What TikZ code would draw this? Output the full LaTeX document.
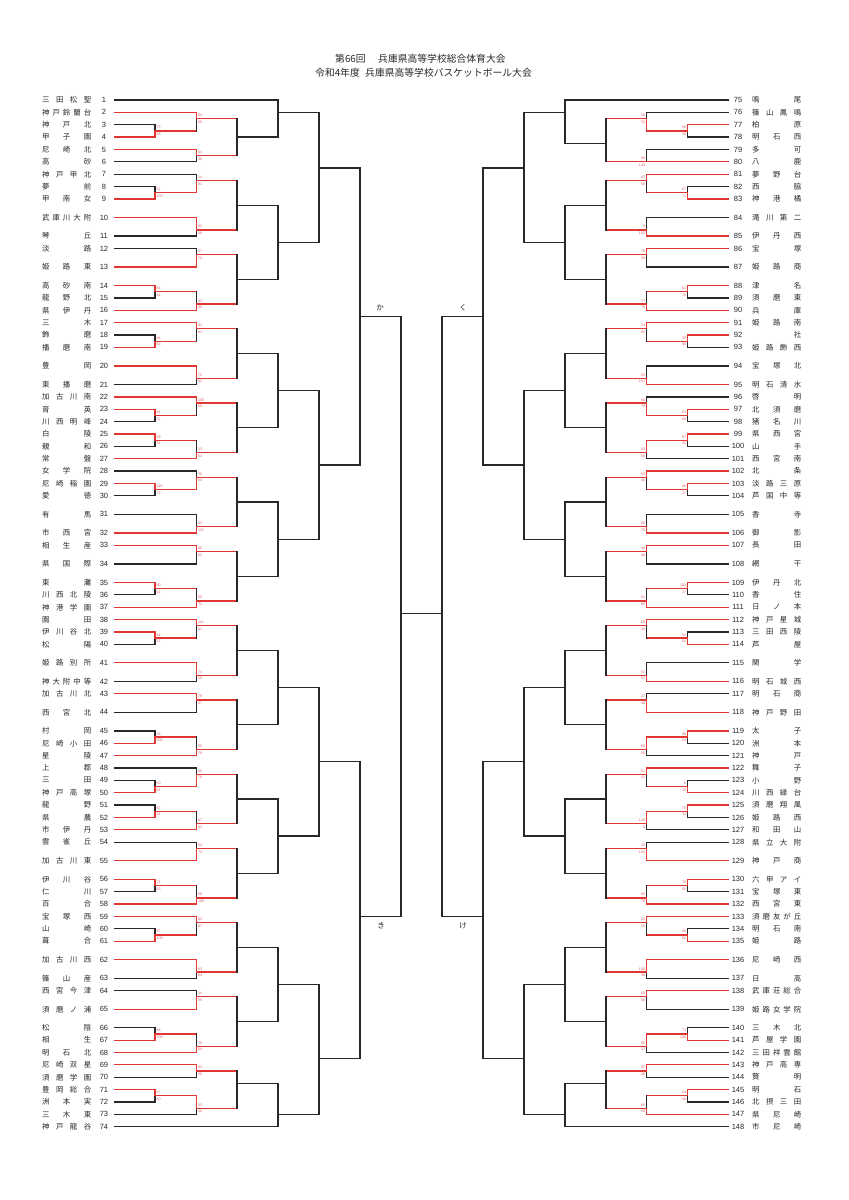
\documentclass[tikz,border=0pt]{standalone}
\usepackage{fontspec}
\newfontfamily\jp{Noto Sans CJK JP}
\newfontfamily\ns{Liberation Sans}
\usetikzlibrary{calc}
\definecolor{rd}{RGB}{225,55,50}
\definecolor{bk}{RGB}{40,40,40}
\definecolor{scc}{RGB}{225,95,95}
\makeatletter
\newcommand\jname[1]{\makebox[49pt][s]{\def\jsep{}\@tfor\jch:=#1\do{\jsep\jch\def\jsep{\hfill}}}}
\makeatother
\tikzset{
 rl/.style={draw=rd,line width=1.25pt,line cap=rect},
 bl/.style={draw=bk,line width=1.25pt,line cap=rect},
 nm/.style={font=\jp\fontsize{7.4}{8}\selectfont,text=bk,inner sep=0pt},
 num/.style={font=\ns\fontsize{7.5}{8}\selectfont,text=bk,inner sep=0pt},
 sc/.style={font=\ns\fontsize{3.6}{4}\selectfont,text=scc,inner sep=0pt},
 ttl/.style={font=\jp\fontsize{9.8}{11}\selectfont,text=bk,inner sep=0pt},
 lab/.style={font=\jp\fontsize{7.5}{8}\selectfont,text=bk,inner sep=0pt}
}
\newcommand\tmL[3]{\pgfmathsetmacro\yy{100+12.37*#2}%
 \node[nm,anchor=west] (nm#1) at (42,\yy) {\jname{#3}};%
 \node[num] (no#1) at (104,\yy) {#1};%
 \coordinate (t#1) at (114.5,\yy);}
\newcommand\tmR[3]{\pgfmathsetmacro\yy{100+12.37*#2}%
 \node[nm,anchor=west] (nm#1) at (752,\yy) {\jname{#3}};%
 \node[num] (no#1) at (738,\yy) {#1};%
 \coordinate (t#1) at (728,\yy);}
% match: id, column, inputA, inputB, output unit, winner t/b/n, style A, style B
\newcommand\mt[8]{\pgfmathsetmacro\yo{100+12.37*#5}%
 \coordinate (#1) at (#2 |- 0,\yo);%
 \draw[#7] (#3) -- (#3 -| #2);%
 \draw[#8] (#4) -- (#4 -| #2);%
 \if t#6\draw[bl] (#1) -- (#4 -| #2);\draw[rl] (#3 -| #2) -- (#1);%
 \else\if b#6\draw[bl] (#3 -| #2) -- (#1);\draw[rl] (#1) -- (#4 -| #2);%
 \else\draw[bl] (#3 -| #2) -- (#4 -| #2);\fi\fi}
\newcommand\sL[3]{\node[sc,anchor=west] (s#1a) at ($(#1)+(1.3,-3.3)$) {#2};%
 \node[sc,anchor=west] (s#1b) at ($(#1)+(1.3,3.4)$) {#3};}
\newcommand\sR[3]{\node[sc,anchor=east] (s#1a) at ($(#1)+(-1.3,-3.3)$) {#2};%
 \node[sc,anchor=east] (s#1b) at ($(#1)+(-1.3,3.4)$) {#3};}
\begin{document}
\begin{tikzpicture}[x=1pt,y=-1pt]
\fill[white] (0,0) rectangle (849,1200);
\useasboundingbox (0,0) rectangle (849,1200);
% title
\node[ttl,anchor=west] (ti1a) at (335,59) {第66回};
\node[ttl,anchor=west] (ti1b) at (378,59) {兵庫県高等学校総合体育大会};
\node[ttl,anchor=west] (ti2a) at (315,72.5) {令和4年度};
\node[ttl,anchor=west] (ti2b) at (365,72.5) {兵庫県高等学校バスケットボール大会};
% columns
\coordinate (cl1) at (155,0); \coordinate (cl2) at (196.5,0); \coordinate (cl3) at (237,0);
\coordinate (cl4) at (278,0); \coordinate (cl5) at (319,0); \coordinate (cl6) at (360,0);
\coordinate (cl7) at (401,0);
\coordinate (cr1) at (687.5,0); \coordinate (cr2) at (646.5,0); \coordinate (cr3) at (606,0);
\coordinate (cr4) at (565,0); \coordinate (cr5) at (524,0); \coordinate (cr6) at (483,0);
\coordinate (cr7) at (442,0);
% left teams
\tmL{1}{0}{三田松聖}\tmL{2}{1}{神戸鈴蘭台}\tmL{3}{2}{神戸北}\tmL{4}{3}{甲子園}
\tmL{5}{4}{尼崎北}\tmL{6}{5}{高砂}\tmL{7}{6}{神戸甲北}\tmL{8}{7}{夢前}
\tmL{9}{8}{甲南女}\tmL{10}{9.5}{武庫川大附}\tmL{11}{11}{琴丘}\tmL{12}{12}{淡路}
\tmL{13}{13.5}{姫路東}\tmL{14}{15}{高砂南}\tmL{15}{16}{龍野北}\tmL{16}{17}{県伊丹}
\tmL{17}{18}{三木}\tmL{18}{19}{飾磨}\tmL{19}{20}{播磨南}\tmL{20}{21.5}{豊岡}
\tmL{21}{23}{東播磨}\tmL{22}{24}{加古川南}\tmL{23}{25}{育英}\tmL{24}{26}{川西明峰}
\tmL{25}{27}{白陵}\tmL{26}{28}{親和}\tmL{27}{29}{常盤}\tmL{28}{30}{女学院}
\tmL{29}{31}{尼崎稲園}\tmL{30}{32}{愛徳}\tmL{31}{33.5}{有馬}\tmL{32}{35}{市西宮}
\tmL{33}{36}{相生産}\tmL{34}{37.5}{県国際}\tmL{35}{39}{東灘}\tmL{36}{40}{川西北陵}
\tmL{37}{41}{神港学園}\tmL{38}{42}{園田}\tmL{39}{43}{伊川谷北}\tmL{40}{44}{松陽}
\tmL{41}{45.5}{姫路別所}\tmL{42}{47}{神大附中等}\tmL{43}{48}{加古川北}\tmL{44}{49.5}{西宮北}
\tmL{45}{51}{村岡}\tmL{46}{52}{尼崎小田}\tmL{47}{53}{星陵}\tmL{48}{54}{上郡}
\tmL{49}{55}{三田}\tmL{50}{56}{神戸高塚}\tmL{51}{57}{龍野}\tmL{52}{58}{県農}
\tmL{53}{59}{市伊丹}\tmL{54}{60}{雲雀丘}\tmL{55}{61.5}{加古川東}\tmL{56}{63}{伊川谷}
\tmL{57}{64}{仁川}\tmL{58}{65}{百合}\tmL{59}{66}{宝塚西}\tmL{60}{67}{山崎}
\tmL{61}{68}{葺合}\tmL{62}{69.5}{加古川西}\tmL{63}{71}{篠山産}\tmL{64}{72}{西宮今津}
\tmL{65}{73.5}{須磨ノ浦}\tmL{66}{75}{松陰}\tmL{67}{76}{相生}\tmL{68}{77}{明石北}
\tmL{69}{78}{尼崎双星}\tmL{70}{79}{須磨学園}\tmL{71}{80}{豊岡総合}\tmL{72}{81}{洲本実}
\tmL{73}{82}{三木東}\tmL{74}{83}{神戸龍谷}
% right teams
\tmR{75}{0}{鳴尾}\tmR{76}{1}{篠山鳳鳴}\tmR{77}{2}{柏原}\tmR{78}{3}{明石西}
\tmR{79}{4}{多可}\tmR{80}{5}{八鹿}\tmR{81}{6}{夢野台}\tmR{82}{7}{西脇}
\tmR{83}{8}{神港橘}\tmR{84}{9.5}{滝川第二}\tmR{85}{11}{伊丹西}\tmR{86}{12}{宝塚}
\tmR{87}{13.5}{姫路商}\tmR{88}{15}{津名}\tmR{89}{16}{須磨東}\tmR{90}{17}{兵庫}
\tmR{91}{18}{姫路南}\tmR{92}{19}{{\hfill}社}\tmR{93}{20}{姫路飾西}\tmR{94}{21.5}{宝塚北}
\tmR{95}{23}{明石清水}\tmR{96}{24}{啓明}\tmR{97}{25}{北須磨}\tmR{98}{26}{猪名川}
\tmR{99}{27}{県西宮}\tmR{100}{28}{山手}\tmR{101}{29}{西宮南}\tmR{102}{30}{北条}
\tmR{103}{31}{淡路三原}\tmR{104}{32}{芦国中等}\tmR{105}{33.5}{香寺}\tmR{106}{35}{御影}
\tmR{107}{36}{長田}\tmR{108}{37.5}{網干}\tmR{109}{39}{伊丹北}\tmR{110}{40}{香住}
\tmR{111}{41}{日ノ本}\tmR{112}{42}{神戸星城}\tmR{113}{43}{三田西陵}\tmR{114}{44}{芦屋}
\tmR{115}{45.5}{関学}\tmR{116}{47}{明石城西}\tmR{117}{48}{明石商}\tmR{118}{49.5}{神戸野田}
\tmR{119}{51}{太子}\tmR{120}{52}{洲本}\tmR{121}{53}{神戸}\tmR{122}{54}{舞子}
\tmR{123}{55}{小野}\tmR{124}{56}{川西緑台}\tmR{125}{57}{須磨翔風}\tmR{126}{58}{姫路西}
\tmR{127}{59}{和田山}\tmR{128}{60}{県立大附}\tmR{129}{61.5}{神戸商}\tmR{130}{63}{六甲アイ}
\tmR{131}{64}{宝塚東}\tmR{132}{65}{西宮東}\tmR{133}{66}{須磨友が丘}\tmR{134}{67}{明石南}
\tmR{135}{68}{姫路}\tmR{136}{69.5}{尼崎西}\tmR{137}{71}{日高}\tmR{138}{72}{武庫荘総合}
\tmR{139}{73.5}{姫路女学院}\tmR{140}{75}{三木北}\tmR{141}{76}{芦屋学園}\tmR{142}{77}{三田祥雲館}
\tmR{143}{78}{神戸高専}\tmR{144}{79}{賢明}\tmR{145}{80}{明石}\tmR{146}{81}{北摂三田}
\tmR{147}{82}{県尼崎}\tmR{148}{83}{市尼崎}
% left bracket
\mt{a1}{cl1}{t3}{t4}{2.5}{b}{bl}{rl}
\mt{a2}{cl2}{t2}{a1}{1.5}{t}{rl}{rl}
\mt{a3}{cl2}{t5}{t6}{4.5}{t}{rl}{bl}
\mt{a4}{cl3}{a2}{a3}{3}{n}{rl}{rl}
\mt{a5}{cl4}{t1}{a4}{1}{n}{bl}{bl}
\mt{b1}{cl1}{t8}{t9}{7.5}{b}{bl}{rl}
\mt{b2}{cl2}{t7}{b1}{6.5}{b}{bl}{rl}
\mt{b3}{cl2}{t10}{t11}{10.5}{t}{rl}{bl}
\mt{b4}{cl3}{b2}{b3}{8.5}{n}{rl}{rl}
\mt{c1}{cl2}{t12}{t13}{12.5}{b}{bl}{rl}
\mt{c2}{cl1}{t14}{t15}{15.5}{t}{rl}{bl}
\mt{c3}{cl2}{c2}{t16}{16.5}{b}{rl}{rl}
\mt{c4}{cl3}{c1}{c3}{14.5}{n}{rl}{rl}
\mt{bc}{cl4}{b4}{c4}{11.5}{n}{bl}{bl}
\mt{p1}{cl5}{a5}{bc}{5.5}{n}{bl}{bl}
\mt{d1}{cl1}{t18}{t19}{19.5}{b}{bl}{rl}
\mt{d2}{cl2}{t17}{d1}{18.5}{t}{rl}{rl}
\mt{d3}{cl2}{t20}{t21}{22.5}{t}{rl}{bl}
\mt{d4}{cl3}{d2}{d3}{20.5}{n}{rl}{rl}
\mt{e1}{cl1}{t23}{t24}{25.5}{t}{rl}{bl}
\mt{e2}{cl2}{t22}{e1}{24.5}{t}{rl}{rl}
\mt{e3}{cl1}{t25}{t26}{27.5}{t}{rl}{bl}
\mt{e4}{cl2}{e3}{t27}{28.5}{b}{rl}{rl}
\mt{e5}{cl3}{e2}{e4}{26.5}{n}{rl}{rl}
\mt{de}{cl4}{d4}{e5}{23.5}{n}{bl}{bl}
\mt{f1}{cl1}{t29}{t30}{31.5}{t}{rl}{bl}
\mt{f2}{cl2}{t28}{f1}{30.5}{b}{bl}{rl}
\mt{f3}{cl2}{t31}{t32}{34.5}{b}{bl}{rl}
\mt{f4}{cl3}{f2}{f3}{32.5}{n}{rl}{rl}
\mt{g1}{cl2}{t33}{t34}{36.5}{t}{rl}{bl}
\mt{g2}{cl1}{t35}{t36}{39.5}{t}{rl}{bl}
\mt{g3}{cl2}{g2}{t37}{40.5}{b}{rl}{rl}
\mt{g4}{cl3}{g1}{g3}{38.5}{n}{rl}{rl}
\mt{fg}{cl4}{f4}{g4}{35.5}{n}{bl}{bl}
\mt{p2}{cl5}{de}{fg}{29.5}{n}{bl}{bl}
\mt{ka}{cl6}{p1}{p2}{17.5}{n}{bl}{bl}
\mt{h1}{cl1}{t39}{t40}{43.5}{t}{rl}{bl}
\mt{h2}{cl2}{t38}{h1}{42.5}{t}{rl}{rl}
\mt{h3}{cl2}{t41}{t42}{46.5}{t}{rl}{bl}
\mt{h4}{cl3}{h2}{h3}{44.5}{n}{rl}{rl}
\mt{i1}{cl2}{t43}{t44}{48.5}{t}{rl}{bl}
\mt{i2}{cl1}{t45}{t46}{51.5}{b}{bl}{rl}
\mt{i3}{cl2}{i2}{t47}{52.5}{b}{rl}{rl}
\mt{i4}{cl3}{i1}{i3}{50.5}{n}{rl}{rl}
\mt{hi}{cl4}{h4}{i4}{47.5}{n}{bl}{bl}
\mt{j1}{cl1}{t49}{t50}{55.5}{b}{bl}{rl}
\mt{j2}{cl2}{t48}{j1}{54.5}{b}{bl}{rl}
\mt{j3}{cl1}{t51}{t52}{57.5}{b}{bl}{rl}
\mt{j4}{cl2}{j3}{t53}{58.5}{b}{rl}{rl}
\mt{j5}{cl3}{j2}{j4}{56.5}{n}{rl}{rl}
\mt{k1}{cl2}{t54}{t55}{60.5}{b}{bl}{rl}
\mt{k2}{cl1}{t56}{t57}{63.5}{t}{rl}{bl}
\mt{k3}{cl2}{k2}{t58}{64.5}{b}{rl}{rl}
\mt{k4}{cl3}{k1}{k3}{62.5}{n}{rl}{rl}
\mt{jk}{cl4}{j5}{k4}{59.5}{n}{bl}{bl}
\mt{p3}{cl5}{hi}{jk}{53.5}{n}{bl}{bl}
\mt{l1}{cl1}{t60}{t61}{67.5}{b}{bl}{rl}
\mt{l2}{cl2}{t59}{l1}{66.5}{t}{rl}{rl}
\mt{l3}{cl2}{t62}{t63}{70.5}{t}{rl}{bl}
\mt{l4}{cl3}{l2}{l3}{68.5}{n}{rl}{rl}
\mt{m1}{cl2}{t64}{t65}{72.5}{b}{bl}{rl}
\mt{m2}{cl1}{t66}{t67}{75.5}{b}{bl}{rl}
\mt{m3}{cl2}{m2}{t68}{76.5}{b}{rl}{rl}
\mt{m4}{cl3}{m1}{m3}{74.5}{n}{rl}{rl}
\mt{lm}{cl4}{l4}{m4}{71.5}{n}{bl}{bl}
\mt{n1}{cl2}{t69}{t70}{78.5}{t}{rl}{bl}
\mt{n2}{cl1}{t71}{t72}{80.5}{t}{rl}{bl}
\mt{n3}{cl2}{n2}{t73}{81.5}{t}{rl}{bl}
\mt{n4}{cl3}{n1}{n3}{79.5}{n}{rl}{rl}
\mt{n5}{cl4}{n4}{t74}{82}{n}{bl}{bl}
\mt{p4}{cl5}{lm}{n5}{77.5}{n}{bl}{bl}
\mt{ki}{cl6}{p3}{p4}{66}{n}{bl}{bl}
\mt{lf}{cl7}{ka}{ki}{41.5}{n}{bl}{bl}
% right bracket
\mt{A1}{cr1}{t77}{t78}{2.5}{t}{rl}{bl}
\mt{A2}{cr2}{t76}{A1}{1.5}{b}{bl}{rl}
\mt{A3}{cr2}{t79}{t80}{5}{b}{bl}{rl}
\mt{A4}{cr3}{A2}{A3}{3.5}{n}{rl}{rl}
\mt{A5}{cr4}{t75}{A4}{1}{n}{bl}{bl}
\mt{B1}{cr1}{t82}{t83}{7.5}{b}{bl}{rl}
\mt{B2}{cr2}{t81}{B1}{6.5}{t}{rl}{rl}
\mt{B3}{cr2}{t84}{t85}{10.5}{b}{bl}{rl}
\mt{B4}{cr3}{B2}{B3}{8.5}{n}{rl}{rl}
\mt{C1}{cr2}{t86}{t87}{12.5}{t}{rl}{bl}
\mt{C2}{cr1}{t88}{t89}{15.5}{t}{rl}{bl}
\mt{C3}{cr2}{C2}{t90}{16.5}{b}{rl}{rl}
\mt{C4}{cr3}{C1}{C3}{14.5}{n}{rl}{rl}
\mt{BC}{cr4}{B4}{C4}{11.5}{n}{bl}{bl}
\mt{P1}{cr5}{A5}{BC}{5.5}{n}{bl}{bl}
\mt{D1}{cr1}{t92}{t93}{19.5}{t}{rl}{bl}
\mt{D2}{cr2}{t91}{D1}{18.5}{t}{rl}{rl}
\mt{D3}{cr2}{t94}{t95}{22.5}{b}{bl}{rl}
\mt{D4}{cr3}{D2}{D3}{20.5}{n}{rl}{rl}
\mt{E1}{cr1}{t97}{t98}{25.5}{t}{rl}{bl}
\mt{E2}{cr2}{t96}{E1}{24.5}{b}{bl}{rl}
\mt{E3}{cr1}{t99}{t100}{27.5}{t}{rl}{bl}
\mt{E4}{cr2}{E3}{t101}{28.5}{t}{rl}{bl}
\mt{E5}{cr3}{E2}{E4}{26.5}{n}{rl}{rl}
\mt{DE}{cr4}{D4}{E5}{23.5}{n}{bl}{bl}
\mt{F1}{cr1}{t103}{t104}{31.5}{t}{rl}{bl}
\mt{F2}{cr2}{t102}{F1}{30.5}{t}{rl}{rl}
\mt{F3}{cr2}{t105}{t106}{34.5}{b}{bl}{rl}
\mt{F4}{cr3}{F2}{F3}{32.5}{n}{rl}{rl}
\mt{G1}{cr2}{t107}{t108}{36.5}{t}{rl}{bl}
\mt{G2}{cr1}{t109}{t110}{39.5}{t}{rl}{bl}
\mt{G3}{cr2}{G2}{t111}{40.5}{b}{rl}{rl}
\mt{G4}{cr3}{G1}{G3}{38.5}{n}{rl}{rl}
\mt{FG}{cr4}{F4}{G4}{35.5}{n}{bl}{bl}
\mt{P2}{cr5}{DE}{FG}{29.5}{n}{bl}{bl}
\mt{KU}{cr6}{P1}{P2}{17.5}{n}{bl}{bl}
\mt{H1}{cr1}{t113}{t114}{43.5}{b}{bl}{rl}
\mt{H2}{cr2}{t112}{H1}{42.5}{t}{rl}{rl}
\mt{H3}{cr2}{t115}{t116}{46.5}{b}{bl}{rl}
\mt{H4}{cr3}{H2}{H3}{44.5}{n}{rl}{rl}
\mt{I1}{cr2}{t117}{t118}{48.5}{b}{bl}{rl}
\mt{I2}{cr1}{t119}{t120}{51.5}{t}{rl}{bl}
\mt{I3}{cr2}{I2}{t121}{52.5}{t}{rl}{bl}
\mt{I4}{cr3}{I1}{I3}{50.5}{n}{rl}{rl}
\mt{HI}{cr4}{H4}{I4}{47.5}{n}{bl}{bl}
\mt{J1}{cr1}{t123}{t124}{55.5}{b}{bl}{rl}
\mt{J2}{cr2}{t122}{J1}{54.5}{t}{rl}{rl}
\mt{J3}{cr1}{t125}{t126}{57.5}{t}{rl}{bl}
\mt{J4}{cr2}{J3}{t127}{58.5}{t}{rl}{bl}
\mt{J5}{cr3}{J2}{J4}{56.5}{n}{rl}{rl}
\mt{K1}{cr2}{t128}{t129}{60.5}{b}{bl}{rl}
\mt{K2}{cr1}{t130}{t131}{63.5}{t}{rl}{bl}
\mt{K3}{cr2}{K2}{t132}{64.5}{b}{rl}{rl}
\mt{K4}{cr3}{K1}{K3}{62.5}{n}{rl}{rl}
\mt{JK}{cr4}{J5}{K4}{59.5}{n}{bl}{bl}
\mt{P3}{cr5}{HI}{JK}{53.5}{n}{bl}{bl}
\mt{L1}{cr1}{t134}{t135}{67.5}{b}{bl}{rl}
\mt{L2}{cr2}{t133}{L1}{66.5}{t}{rl}{rl}
\mt{L3}{cr2}{t136}{t137}{70.5}{t}{rl}{bl}
\mt{L4}{cr3}{L2}{L3}{68.5}{n}{rl}{rl}
\mt{M1}{cr2}{t138}{t139}{72.5}{t}{rl}{bl}
\mt{M2}{cr1}{t140}{t141}{75.5}{b}{bl}{rl}
\mt{M3}{cr2}{M2}{t142}{76.5}{t}{rl}{bl}
\mt{M4}{cr3}{M1}{M3}{74.5}{n}{rl}{rl}
\mt{LM}{cr4}{L4}{M4}{71.5}{n}{bl}{bl}
\mt{N1}{cr2}{t143}{t144}{78.5}{t}{rl}{bl}
\mt{N2}{cr1}{t145}{t146}{80.5}{t}{rl}{bl}
\mt{N3}{cr2}{N2}{t147}{81.5}{b}{rl}{rl}
\mt{N4}{cr3}{N1}{N3}{79.5}{n}{rl}{rl}
\mt{N5}{cr4}{N4}{t148}{82}{n}{bl}{bl}
\mt{P4}{cr5}{LM}{N5}{77.5}{n}{bl}{bl}
\mt{KE}{cr6}{P3}{P4}{66}{n}{bl}{bl}
\mt{RF}{cr7}{KU}{KE}{41.5}{n}{bl}{bl}
\draw[bl] (lf) -- (RF);
% block labels
\node[lab] (lbka) at (380,308) {か};
\node[lab] (lbku) at (463,308) {く};
\node[lab] (lbki) at (381,926) {き};
\node[lab] (lbke) at (463,926) {け};
% scores left
\sL{a1}{75}{89}\sL{a2}{64}{69}\sL{a3}{54}{40}\sL{b1}{51}{103}\sL{b2}{54}{81}
\sL{b3}{93}{58}\sL{c1}{57}{72}\sL{c2}{84}{44}\sL{c3}{63}{80}\sL{d1}{46}{83}
\sL{d2}{81}{61}\sL{d3}{72}{62}\sL{e1}{64}{51}\sL{e2}{100}{59}\sL{e3}{59}{54}
\sL{e4}{53}{64}\sL{f1}{145}{73}\sL{f2}{50}{64}\sL{f3}{53}{119}\sL{g1}{60}{62}
\sL{g2}{80}{61}\sL{g3}{69}{72}\sL{h1}{84}{27}\sL{h2}{114}{61}\sL{h3}{74}{59}
\sL{i1}{79}{57}\sL{i2}{28}{100}\sL{i3}{55}{79}\sL{j1}{60}{64}\sL{j2}{60}{70}
\sL{j3}{67}{54}\sL{j4}{67}{63}\sL{k1}{54}{74}\sL{k2}{74}{65}\sL{k3}{60}{108}
\sL{l1}{57}{109}\sL{l2}{83}{67}\sL{l3}{83}{64}\sL{m1}{54}{59}\sL{m2}{48}{109}
\sL{m3}{79}{64}\sL{n1}{63}{60}\sL{n2}{57}{40}\sL{n3}{53}{40}
% scores right
\sR{A1}{56}{38}\sR{A2}{58}{53}\sR{A3}{58}{140}\sR{B1}{67}{71}\sR{B2}{47}{58}
\sR{B3}{8}{102}\sR{C1}{78}{39}\sR{C2}{61}{78}\sR{C3}{77}{78}\sR{D1}{59}{56}
\sR{D2}{74}{65}\sR{D3}{83}{103}\sR{E1}{67}{60}\sR{E2}{60}{78}\sR{E3}{67}{58}
\sR{E4}{83}{58}\sR{F1}{86}{27}\sR{F2}{59}{40}\sR{F3}{68}{70}\sR{G1}{58}{48}
\sR{G2}{103}{27}\sR{G3}{61}{65}\sR{H1}{52}{54}\sR{H2}{69}{45}\sR{H3}{51}{57}
\sR{I1}{27}{46}\sR{I2}{90}{54}\sR{I3}{68}{56}\sR{J1}{8}{20}\sR{J2}{51}{43}
\sR{J3}{70}{33}\sR{J4}{120}{8}\sR{K1}{24}{104}\sR{K2}{70}{50}\sR{K3}{60}{78}
\sR{L1}{56}{62}\sR{L2}{52}{55}\sR{L3}{100}{30}\sR{M1}{65}{38}\sR{M2}{73}{100}
\sR{M3}{60}{37}\sR{N1}{52}{40}\sR{N2}{54}{40}\sR{N3}{65}{58}
\end{tikzpicture}
\end{document}
